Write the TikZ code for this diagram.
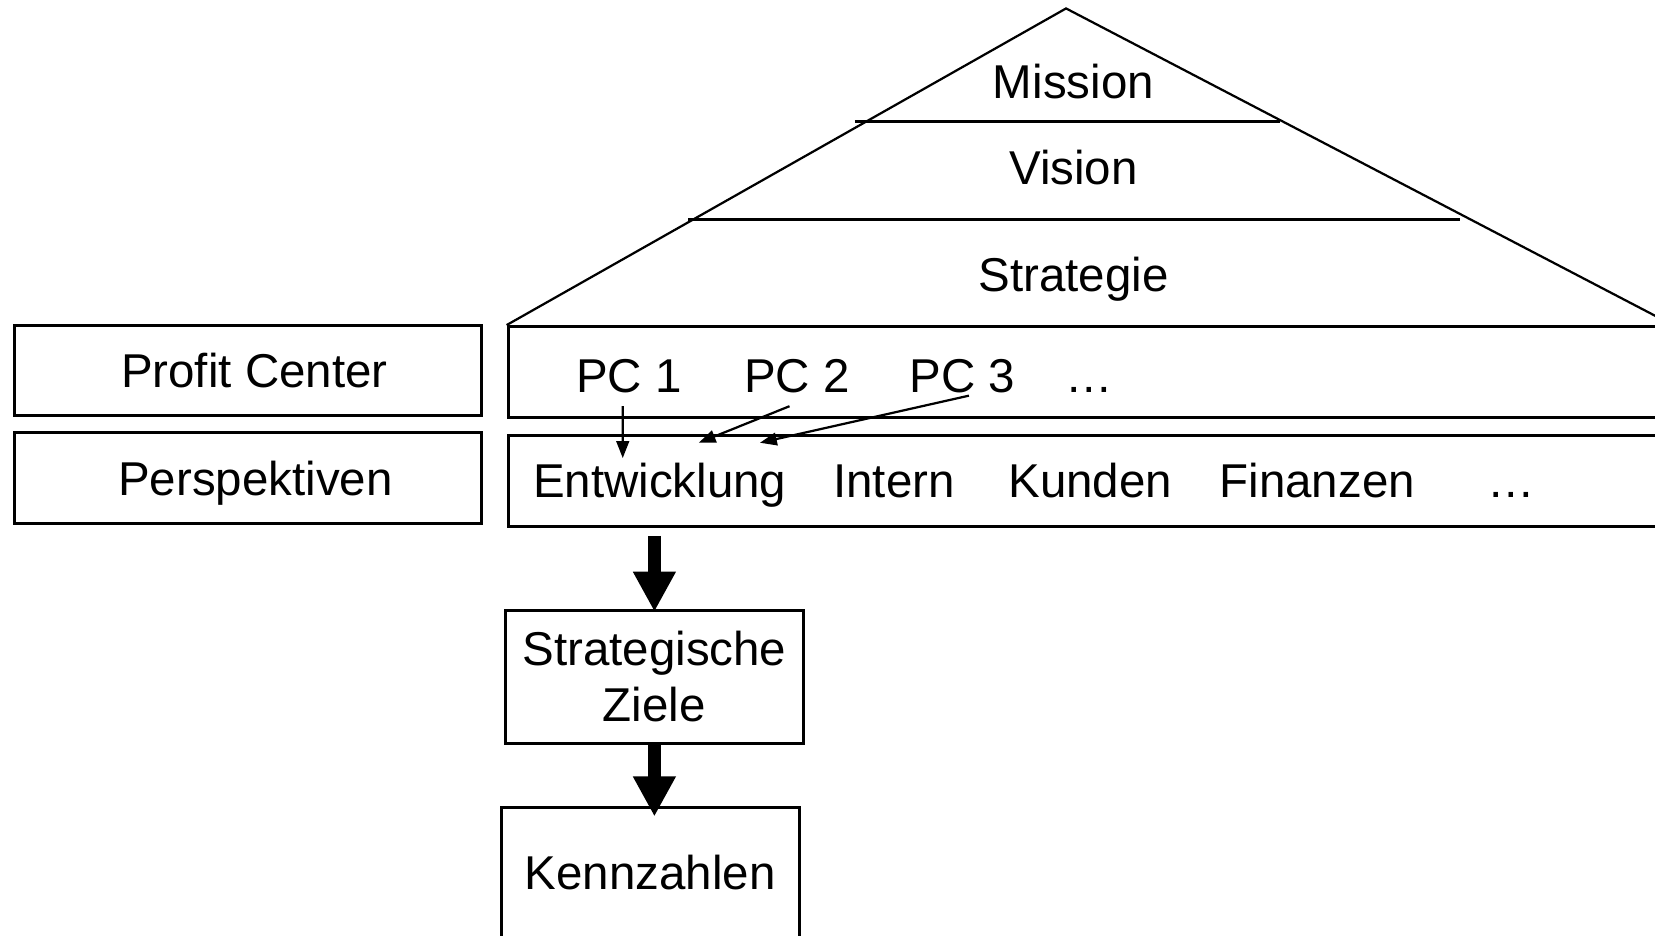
\documentclass[tikz,border=0pt]{standalone}
\usepackage{fontspec}
\setmainfont{Liberation Sans}
\usetikzlibrary{arrows.meta,positioning}
\definecolor{bscink}{HTML}{000000}
\tikzset{
  bsc text/.style={font=\fontsize{12.8pt}{15pt}\selectfont, text=bscink},
  bsc box/.style={draw=bscink, line width=0.8pt, minimum height=0.86cm,
    text height=0.94em, text depth=0pt, inner sep=0pt},
  bsc row/.style={draw=bscink, line width=0.8pt, minimum width=11.3cm,
    minimum height=0.86cm, anchor=north west, inner sep=0pt},
  bsc goal/.style={draw=bscink, line width=0.8pt, minimum width=2.82cm,
    minimum height=1.26cm, align=center, inner sep=0pt},
  bsc label/.style={anchor=base},
  bsc pyramid/.style={draw=bscink, line width=0.6pt},
  bsc level/.style={draw=bscink, line width=1pt},
  bsc arrow/.style={-{Triangle[length=1.6mm,width=1.2mm]}, line width=0.6pt,
    draw=bscink},
  bsc fat/.style={-{Triangle[length=3.8mm,width=3.8mm]}, line width=3.6pt,
    draw=bscink}
}

\begin{document}
\begin{tikzpicture}[bsc text, x=1cm, y=1cm]
  \path[use as bounding box, clip] (0,0) rectangle (15.68,8.86);
  % left column
  \node[bsc box, minimum width=4.42cm] (pc) at (2.35,5.35) {\hspace*{1.2mm}Profit Center};
  \node[bsc box, minimum width=4.42cm] (persp) at (2.35,4.33) {\hspace*{1.4mm}Perspektiven};
  % rows under the pyramid
  \node[bsc row] (pcrow) at (4.80,5.78) {};
  \node[bsc row] (persprow) at (4.80,4.75) {};
  % pyramid
  \coordinate (apex) at (10.10,8.78);
  \coordinate (baseR) at (15.85,5.78);
  \draw[bsc pyramid] (pcrow.north west) -- (apex) -- (baseR);
  \draw[bsc level] (8.10,7.71) -- (12.13,7.71);
  \draw[bsc level] (6.52,6.78) -- (13.83,6.78);
  \node[bsc label] (mission) at (10.17,7.93) {Mission};
  \node[bsc label] (vision) at (10.17,7.11) {Vision};
  \node[bsc label] (strat) at (10.17,6.10) {Strategie};
  % profit centers
  \node[bsc label] (pc1) at (5.96,5.14) {PC 1};
  \node[bsc label] (pc2) at (7.55,5.14) {PC 2};
  \node[bsc label] (pc3) at (9.12,5.14) {PC 3};
  \node[bsc label] (pcmore) at (10.32,5.14) {…};
  % perspectives
  \node[bsc label] (entw) at (6.25,4.15) {Entwicklung};
  \node[bsc label] (intern) at (8.47,4.15) {Intern};
  \node[bsc label] (kunden) at (10.33,4.15) {Kunden};
  \node[bsc label] (fin) at (12.48,4.15) {Finanzen};
  \node[bsc label] (perspmore) at (14.32,4.15) {…};
  \draw[bsc arrow] ([xshift=-0.6mm]pc1.south) -- ([shift={(-3.5mm,-0.8mm)}]entw.north);
  \draw[bsc arrow] ([xshift=-0.7mm]pc2.south) -- ([shift={(3.7mm,0.65mm)}]entw.north);
  \draw[bsc arrow] ([shift={(0.6mm,1mm)}]pc3.south) -- ([shift={(9.5mm,0.65mm)}]entw.north);
  % goals and measures
  \node[bsc goal] (ziele) at (6.20,2.45) {Strategische\\Ziele};
  \node[bsc goal, text height=0.86em, text depth=0pt] (kenn) at (6.16,0.58) {Kennzahlen};
  \draw[bsc fat, shorten <=0.8mm, shorten >=-0.3mm] (ziele.north |- persprow.south) -- (ziele.north);
  \draw[bsc fat, shorten >=-1mm] (ziele.south) -- (ziele.south |- kenn.north);
\end{tikzpicture}
\end{document}
